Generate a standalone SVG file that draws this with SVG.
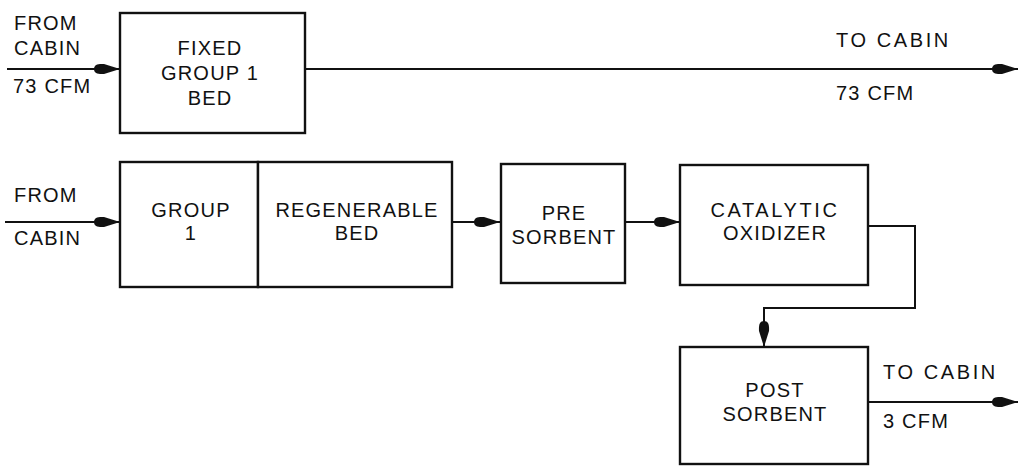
<svg xmlns="http://www.w3.org/2000/svg" width="1023" height="466" viewBox="0 0 1023 466">
<style>
.box{fill:#fff;stroke:#111;stroke-width:2.4}
.ln{fill:none;stroke:#111;stroke-width:2}
text{font-family:"Liberation Sans",Arial,sans-serif;font-size:20px;fill:#111;letter-spacing:1.2px}
.w{letter-spacing:2.6px}
.c{text-anchor:middle}
</style>
<defs>
<marker id="ah" markerUnits="userSpaceOnUse" markerWidth="30" markerHeight="14" refX="26" refY="7" orient="auto">
<path d="M0,7 C0,2.6 4,1.6 10,2 L26,7 L10,12 C4,12.4 0,11.4 0,7 Z" fill="#111"/>
</marker>
</defs>
<rect width="1023" height="466" fill="#fff"/>
<g id="connectors">
<path class="ln" d="M7,69 H120" marker-end="url(#ah)"/>
<path class="ln" d="M305,69 H1018" marker-end="url(#ah)"/>
<path class="ln" d="M5,222 H120" marker-end="url(#ah)"/>
<path class="ln" d="M452,222 H500" marker-end="url(#ah)"/>
<path class="ln" d="M625,222 H680" marker-end="url(#ah)"/>
<path class="ln" d="M868,226 H915 V308 H764 V347" marker-end="url(#ah)"/>
<path class="ln" d="M868,402 H1018" marker-end="url(#ah)"/>
</g>
<g id="labels">
<text x="14" y="30">FROM</text>
<text x="14" y="55">CABIN</text>
<text x="13" y="93">73 CFM</text>
<text class="w" x="836" y="47">TO CABIN</text>
<text x="836" y="100">73 CFM</text>
<text x="14" y="202">FROM</text>
<text x="14" y="245">CABIN</text>
<text class="w" x="883" y="379">TO CABIN</text>
<text x="883" y="428">3 CFM</text>
</g>
<g id="fixed-bed">
<rect class="box" x="120" y="13" width="185" height="120"/>
<text class="c" x="210" y="55">FIXED</text>
<text class="c" x="210" y="80">GROUP 1</text>
<text class="c" x="210" y="105">BED</text>
</g>
<g id="group1">
<rect class="box" x="120" y="162" width="138" height="125"/>
<text class="c" x="191" y="217">GROUP</text>
<text class="c" x="191" y="240">1</text>
</g>
<g id="regenerable-bed">
<rect class="box" x="258" y="162" width="194" height="125"/>
<text class="c" x="357" y="217">REGENERABLE</text>
<text class="c" x="357" y="240">BED</text>
</g>
<g id="pre-sorbent">
<rect class="box" x="501" y="164" width="124" height="119"/>
<text class="c" x="564" y="220">PRE</text>
<text class="c" x="564" y="244">SORBENT</text>
</g>
<g id="catalytic-oxidizer">
<rect class="box" x="680" y="165" width="188" height="120"/>
<text class="c w" x="775" y="217">CATALYTIC</text>
<text class="c" x="775" y="240">OXIDIZER</text>
</g>
<g id="post-sorbent">
<rect class="box" x="680" y="347" width="188" height="117"/>
<text class="c" x="775" y="397">POST</text>
<text class="c" x="775" y="421">SORBENT</text>
</g>
</svg>
